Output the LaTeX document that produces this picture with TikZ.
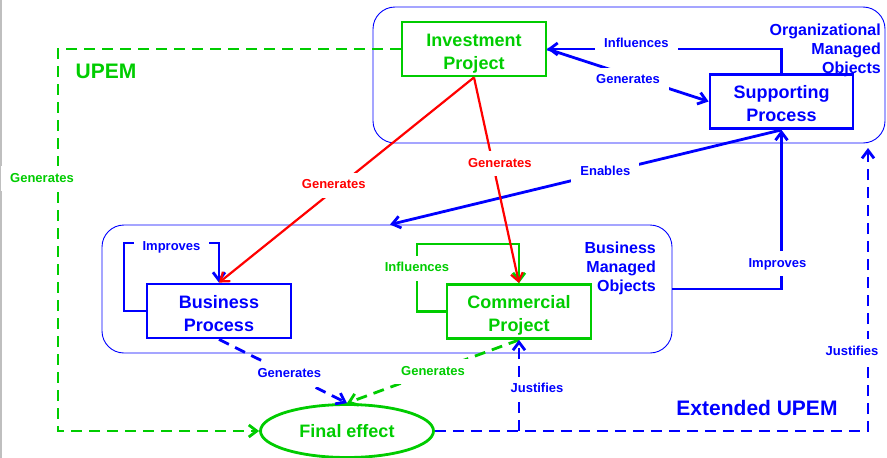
\documentclass[tikz,border=0pt]{standalone}
\usepackage{fontspec}
\setmainfont{Liberation Sans}
\usetikzlibrary{positioning}
\usetikzlibrary{arrows.meta}
\usetikzlibrary{shapes.geometric}
\definecolor{upemgreen}{RGB}{0,204,0}
\definecolor{upemblue}{RGB}{0,0,255}
\definecolor{upemred}{RGB}{255,0,0}

\begin{document}
\begin{tikzpicture}[x=1pt,y=-1pt,
    >={Straight Barb[length=8pt,width=12pt]},
    objbox/.style={rectangle,line width=2.8pt,minimum width=144pt,minimum height=54pt,align=center,text height=40pt,text depth=0pt,font=\fontsize{18}{23}\selectfont\bfseries},
    group/.style={rectangle,rounded corners=22pt,draw=upemblue,line width=0.9pt},
    grouptxt/.style={align=right,text=upemblue,inner sep=0pt,font=\fontsize{16}{19}\selectfont\bfseries},
    bigtxt/.style={font=\fontsize{21}{25}\selectfont\bfseries},
    lbl/.style={fill=white,inner xsep=9pt,inner ysep=6pt,text height=10pt,text depth=3pt,font=\fontsize{13}{15}\selectfont\bfseries},
    link/.style={line width=2.8pt,->},
    dlink/.style={line width=2.8pt,->,dash pattern=on 11pt off 7pt}]
		\useasboundingbox (0,0) rectangle (887,458);
		\draw[black!25,line width=1.5pt] (0.75,0) -- (0.75,458);
		% managed objects
		\node[group,minimum width=512pt,minimum height=136pt] (orgobj) at (629,75) {};
		\node[group,minimum width=570pt,minimum height=128pt] (busobj) at (387,289) {};
		\node[grouptxt,anchor=north east] (orgtxt) at (881,24) {Organizational\\Managed\\Objects};
		\node[grouptxt,anchor=north east] (bustxt) at (656,242) {Business\\Managed\\Objects};
		\node[bigtxt,text=upemgreen] (upem) at (106,71) {UPEM};
		\node[bigtxt,text=upemblue] (extupem) at (757,408) {Extended UPEM};
		% projects and processes
		\node[objbox,draw=upemgreen,text=upemgreen] (invest) at (474,49) {Investment\\Project};
		\node[objbox,draw=upemblue,text=upemblue,minimum width=143pt] (support) at (781.5,101.5) {Supporting\\Process};
		\node[objbox,draw=upemblue,text=upemblue] (busproc) at (219,311) {Business\\Process};
		\node[objbox,draw=upemgreen,text=upemgreen] (commproj) at (519,311.5) {Commercial\\Project};
		\node[ellipse,draw=upemgreen,text=upemgreen,line width=2.8pt,minimum width=173pt,minimum height=53pt,font=\fontsize{18}{22}\selectfont\bfseries] (final) at (347,431) {Final effect};
		\coordinate (jtop) at (868,148);
		% solid links
		\draw[link,upemblue] (support.north) |- node[lbl,pos=0.81,yshift=5pt]{Influences} (invest.east);
		\draw[link,upemblue] (invest.east) -- node[lbl,yshift=-5pt]{Generates} (support.west);
		\draw[link,upemblue] (support.south) -- node[lbl,pos=0.45]{Enables} ([xshift=3pt]busobj.north);
		\draw[link,upemblue] (busobj.east) -| node[lbl,pos=0.58,xshift=-4pt]{Improves} (support.south);
		\draw[link,upemblue] (busproc.west) -| (124,243) -- node[lbl,yshift=-4pt]{Improves} (219,243) -- (busproc.north);
		\draw[link,upemgreen] (commproj.west) -| node[lbl,pos=0.82]{Influences} (417,244) -- (519,244) -- (commproj.north);
		\draw[link,upemred,line width=2.2pt] (invest.south) -- node[lbl,pos=0.55,yshift=5pt]{Generates} (busproc.north);
		\draw[link,upemred,line width=2.2pt] (invest.south) -- node[lbl,pos=0.42,xshift=7pt]{Generates} (commproj.north);
		% dashed links
		\draw[dlink,upemgreen] (invest.west) -| node[lbl,pos=0.67,xshift=-16pt]{Generates} (58,431) -- (final.west);
		\draw[dlink,upemblue] (busproc.south) -- node[lbl,pos=0.55]{Generates} (final.north);
		\draw[dlink,upemgreen] (commproj.south) -- node[lbl]{Generates} (final.north);
		\draw[dlink,upemblue] (final.east) -| node[lbl,pos=0.64,xshift=-16pt]{Justifies} (jtop);
		\draw[dlink,upemblue] (commproj.south |- final.east) -- node[lbl,pos=0.46,xshift=18pt]{Justifies} (commproj.south);
	\end{tikzpicture}
\end{document}
